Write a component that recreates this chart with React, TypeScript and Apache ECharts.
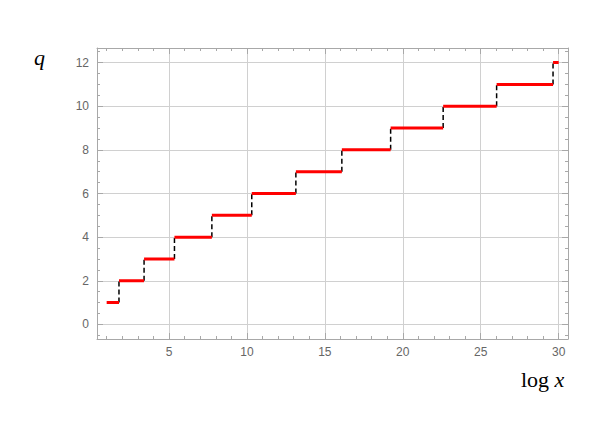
import React, { useEffect, useRef } from "react";
import * as echarts from "echarts";

// step breakpoints in log x (log of primorials), and the step levels q
const breakpoints = [1, 1.79, 3.4, 5.35, 7.75, 10.31, 13.14, 16.09, 19.22, 22.59, 26.02, 29.64, 30];
const levels = [1, 2, 3, 4, 5, 6, 7, 8, 9, 10, 11, 12];
const xTicks = [5, 10, 15, 20, 25, 30];
const yTicks = [0, 2, 4, 6, 8, 10, 12];
const xMinorTicks = [1, 2, 3, 4, 6, 7, 8, 9, 11, 12, 13, 14, 16, 17, 18, 19, 21, 22, 23, 24, 26, 27, 28, 29];
const yMinorTicks = [-0.5, 0.5, 1, 1.5, 2.5, 3, 3.5, 4.5, 5, 5.5, 6.5, 7, 7.5, 8.5, 9, 9.5, 10.5, 11, 11.5, 12.5];

export default function App() {
  const ref = useRef<HTMLDivElement>(null);
  useEffect(() => {
    const chart = echarts.init(ref.current!, undefined, { renderer: "svg" });
    const redData: any[] = [];
    const dashData: any[] = [];
    levels.forEach((q, i) => {
      redData.push([breakpoints[i], q], [breakpoints[i + 1], q], "-");
      if (i < levels.length - 1) {
        dashData.push([breakpoints[i + 1], q], [breakpoints[i + 1], levels[i + 1]], "-");
      }
    });
    const frameColor = "#a8a8a8";
    const gridColor = "#d0d0d0";
    const labelStyle = { color: "#666", fontSize: 12, fontFamily: "'Liberation Sans', Arial, sans-serif" };
    const xMin = 0.38;
    const xMax = 30.6;
    const yMin = -0.67;
    const yMax = 12.67;
    const mkX = (position: string, major: boolean, labels: boolean, line: boolean, split: boolean) => ({
      type: "value",
      position,
      min: xMin,
      max: xMax,
      axisTick: {
        show: true,
        inside: true,
        length: major ? 6 : 3,
        customValues: major ? xTicks : xMinorTicks,
        lineStyle: { color: frameColor },
      },
      axisLabel: labels
        ? { ...labelStyle, margin: 7, customValues: xTicks, formatter: (v: number) => String(v) }
        : { show: false },
      axisLine: { show: line, onZero: false, lineStyle: { color: frameColor, width: 1 } },
      splitLine: { show: split, lineStyle: { color: gridColor, width: 1 } },
    });
    const mkY = (position: string, major: boolean, labels: boolean, line: boolean, split: boolean) => ({
      type: "value",
      position,
      min: yMin,
      max: yMax,
      axisTick: {
        show: true,
        inside: true,
        length: major ? 6 : 3,
        customValues: major ? yTicks : yMinorTicks,
        lineStyle: { color: frameColor },
      },
      axisLabel: labels
        ? { ...labelStyle, margin: 8, customValues: yTicks, formatter: (v: number) => String(v) }
        : { show: false },
      axisLine: { show: line, onZero: false, lineStyle: { color: frameColor, width: 1 } },
      splitLine: { show: split, lineStyle: { color: gridColor, width: 1 } },
    });
    chart.setOption({
      animation: false,
      grid: { left: 97, right: 42, top: 48, bottom: 92, containLabel: false },
      xAxis: [
        mkX("bottom", true, true, true, true),
        mkX("bottom", false, false, false, false),
        mkX("top", true, false, true, false),
        mkX("top", false, false, false, false),
      ],
      yAxis: [
        mkY("left", true, true, true, true),
        mkY("left", false, false, false, false),
        mkY("right", true, false, true, false),
        mkY("right", false, false, false, false),
      ],
      series: [
        {
          type: "line",
          data: dashData,
          showSymbol: false,
          symbol: "none",
          lineStyle: { color: "#000", width: 1.5, type: [5, 3] },
          connectNulls: false,
          z: 3,
        },
        {
          type: "line",
          data: redData,
          showSymbol: false,
          symbol: "none",
          lineStyle: { color: "#ff0000", width: 3 },
          connectNulls: false,
          z: 4,
        },
      ],
      graphic: [
        {
          type: "text",
          left: 34,
          top: 46,
          style: {
            text: "q",
            font: "italic 22px 'Liberation Serif', 'Times New Roman', serif",
            fill: "#000",
          },
        },
        {
          type: "text",
          left: 521,
          top: 368,
          style: {
            text: "{a|log }{b|x}",
            rich: {
              a: { font: "22px 'Liberation Serif', 'Times New Roman', serif", fill: "#000" },
              b: { font: "italic 22px 'Liberation Serif', 'Times New Roman', serif", fill: "#000" },
            },
          },
        },
      ],
    });
    return () => chart.dispose();
  }, []);
  return (
    <div style={{ position: "absolute", left: 0, top: 0 }}>
      <div ref={ref} style={{ width: 610, height: 431 }} />
    </div>
  );
}
